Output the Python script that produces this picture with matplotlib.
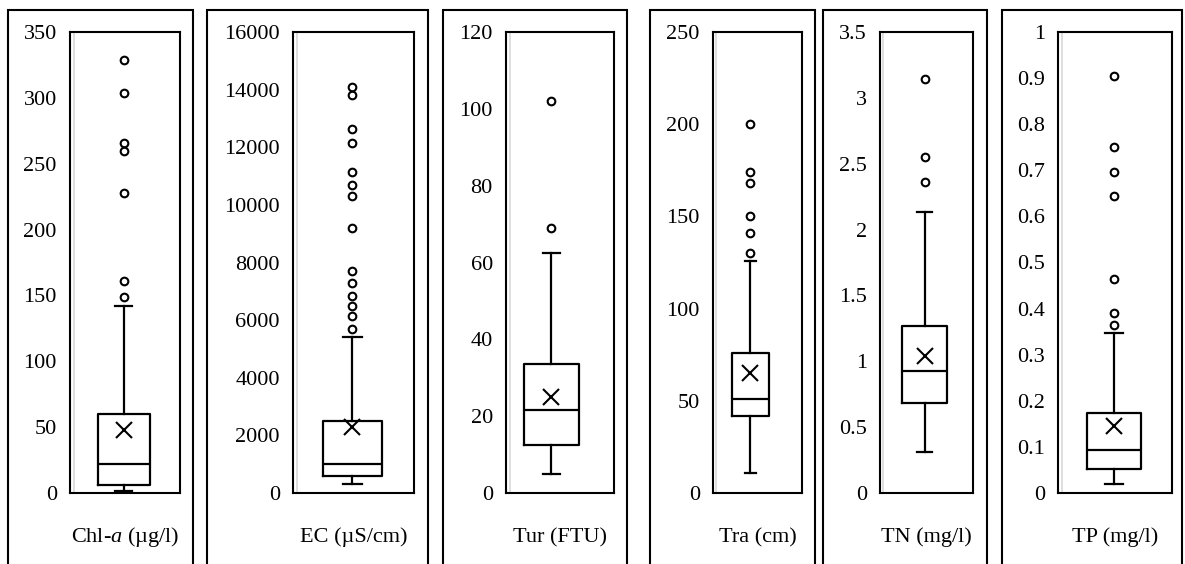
import matplotlib
matplotlib.use("Agg")
import matplotlib.pyplot as plt
from matplotlib.patches import Rectangle
from matplotlib.ticker import FuncFormatter, MultipleLocator

plt.rcParams['font.family'] = ['Liberation Serif', 'DejaVu Serif']
plt.rcParams['mathtext.fontset'] = 'custom'
plt.rcParams['mathtext.rm'] = 'Liberation Serif'
plt.rcParams['mathtext.it'] = 'Liberation Serif:italic'

# ---------------- data ----------------
labels = [r'Chl-$\it{a}$ (µg/l)', 'EC (µS/cm)', 'Tur (FTU)', 'Tra (cm)', 'TN (mg/l)', 'TP (mg/l)']
whislo = [1.5, 300, 5, 11, 0.31, 0.02]
q1 = [6, 580, 12.5, 42, 0.68, 0.053]
med = [22, 1000, 21.5, 51, 0.93, 0.093]
q3 = [60, 2500, 33.5, 76, 1.27, 0.173]
whishi = [142, 5400, 62.5, 126, 2.13, 0.347]
means = [48, 2300, 25, 65, 1.04, 0.145]
fliers = [
    [149, 161, 228, 260, 266, 304, 329],
    [5700, 6150, 6500, 6850, 7300, 7700, 9200, 10300, 10700, 11150, 12150, 12650, 13800, 14100],
    [69, 102],
    [130, 141, 150, 168, 174, 200],
    [2.36, 2.55, 3.14],
    [0.365, 0.39, 0.465, 0.645, 0.697, 0.75, 0.905],
]
ymax = [350, 16000, 120, 250, 3.5, 1]
ystep = [50, 2000, 20, 50, 0.5, 0.1]

# ---------------- layout (pixels of the 1185x564 canvas) ----------------
W, H = 1185, 564
inner_x = [(70, 180), (293, 414), (506, 614), (713, 802), (880, 973), (1058, 1172)]
outer_x = [(8, 193), (207, 428), (443, 627), (650, 815), (823, 987), (1002, 1182)]
box_center = [0.49, 0.49, 0.42, 0.42, 0.48, 0.49]
box_width = [0.48, 0.49, 0.51, 0.41, 0.48, 0.48]
ax_top, ax_bot = 32, 493
outer_top = 10

fig = plt.figure(figsize=(W / 100, H / 100), dpi=100)

lw = 1.6
for i in range(6):
    x0, x1 = inner_x[i]
    ax = fig.add_axes([x0 / W, (H - ax_bot) / H, (x1 - x0) / W, (ax_bot - ax_top) / H])
    stats = [dict(whislo=whislo[i], q1=q1[i], med=med[i], q3=q3[i], whishi=whishi[i],
                  mean=means[i], fliers=fliers[i])]
    ax.bxp(stats, positions=[box_center[i]], widths=[box_width[i]], showmeans=True,
           boxprops=dict(color='black', lw=lw),
           medianprops=dict(color='black', lw=lw),
           whiskerprops=dict(color='black', lw=lw),
           capprops=dict(color='black', lw=lw),
           capwidths=[box_width[i] * 0.32],
           flierprops=dict(marker='o', markersize=5.5, markerfacecolor='none',
                           markeredgecolor='black', markeredgewidth=1.5),
           meanprops=dict(marker='x', markersize=11, markeredgecolor='black',
                          markeredgewidth=1.5))
    ax.set_xlim(0, 1)
    ax.set_ylim(0, ymax[i])
    ax.yaxis.set_major_locator(MultipleLocator(ystep[i]))
    ax.yaxis.set_major_formatter(FuncFormatter(lambda v, p: '{:g}'.format(round(v, 6))))
    ax.set_xticks([])
    ax.tick_params(axis='y', length=0, pad=9.5, labelsize=16)
    for s in ax.spines.values():
        s.set_linewidth(1.5)
    ax.axvline(0.035, color='#d8d8d8', lw=1.2, zorder=0)
    ax.annotate(labels[i], xy=(0.5, 0), xycoords='axes fraction',
                xytext=(0, -32), textcoords='offset points',
                ha='center', va='center', fontsize=16)
    # outer frame of the panel
    ox0, ox1 = outer_x[i]
    fig.add_artist(Rectangle((ox0 / W, -0.05), (ox1 - ox0) / W, (H - outer_top) / H + 0.05,
                             transform=fig.transFigure, fill=False, lw=1.5,
                             edgecolor='black', clip_on=False))

fig.savefig('out.png', dpi=100)
